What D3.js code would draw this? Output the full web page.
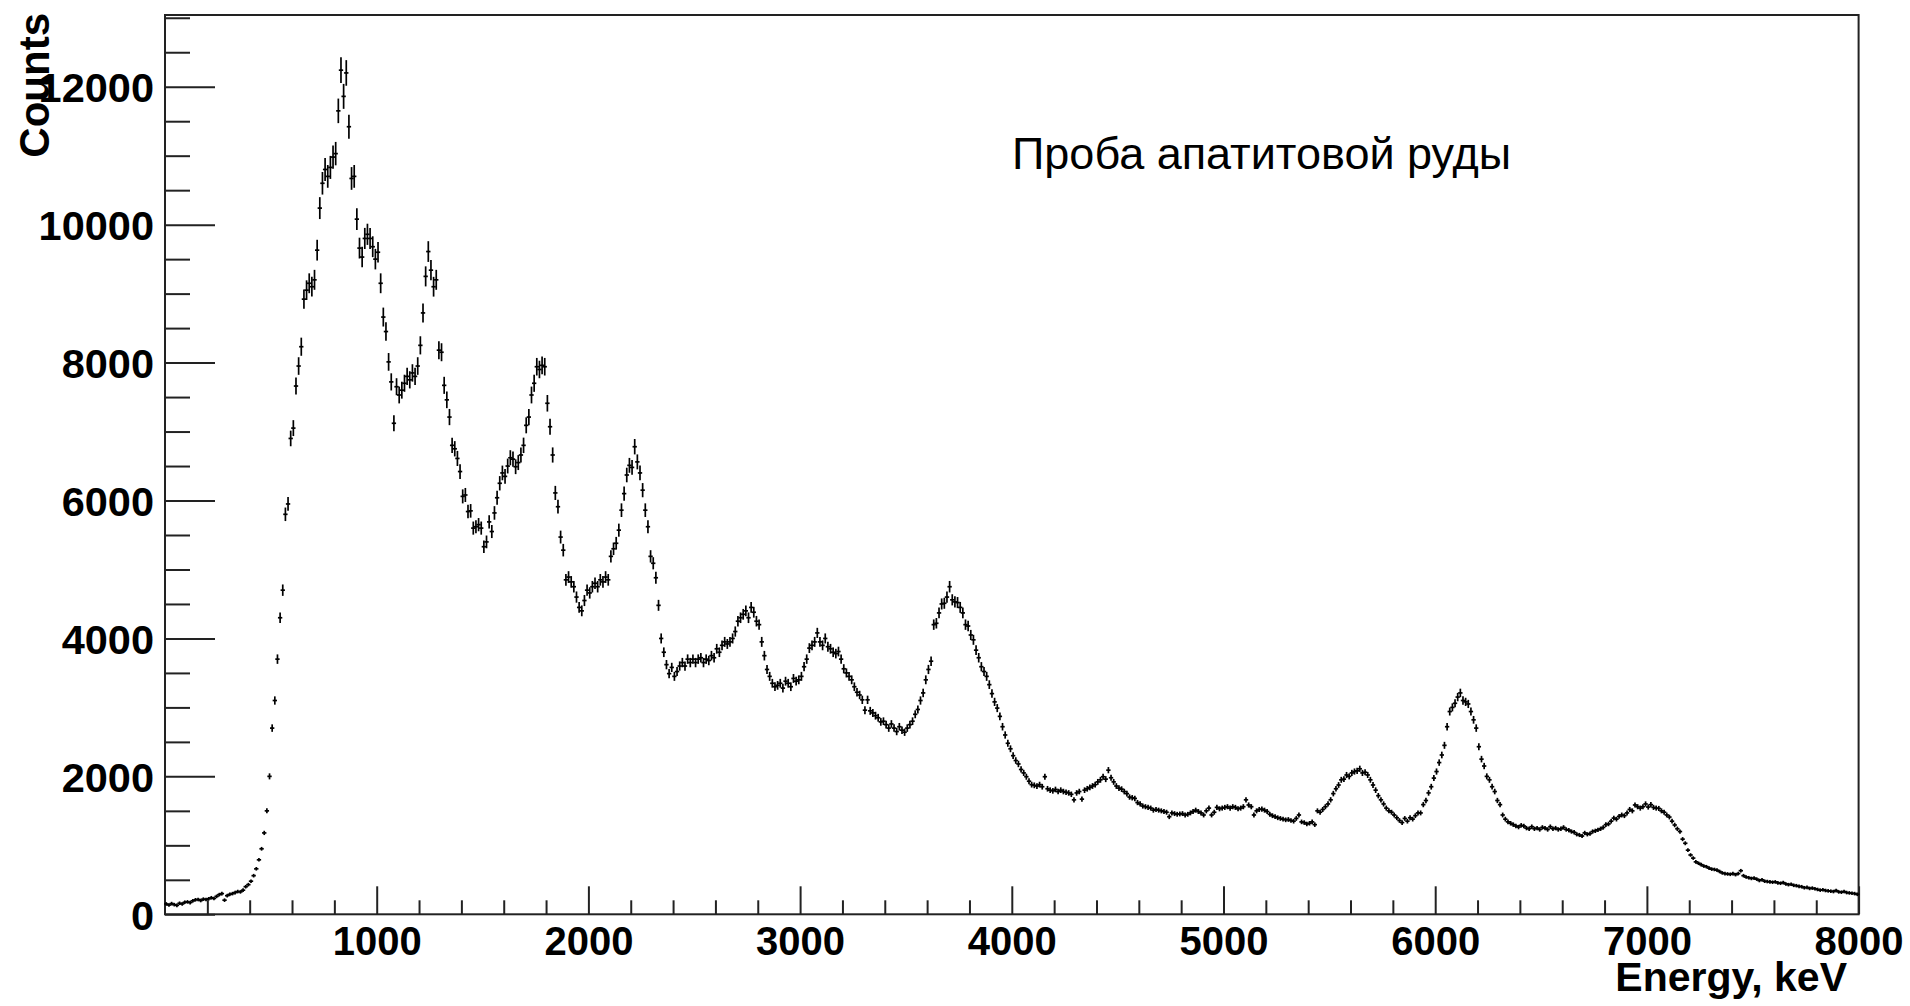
<!DOCTYPE html>
<html>
<head>
<meta charset="utf-8">
<title>Проба апатитовой руды</title>
<script src="https://cdn.jsdelivr.net/npm/d3@7"></script>
<style>
  html, body { margin: 0; padding: 0; background: #ffffff; }
  svg { display: block; }
  text { font-family: "Liberation Sans", Arial, Helvetica, sans-serif; fill: #000; }
</style>
</head>
<body>
<svg id="chart" width="1910" height="1006"></svg>
<script>
// Gamma spectrum of an apatite ore sample: counts per 12.5 keV bin, 0 - 8000 keV.
const binWidth = 12.5;   // keV per bin
const energyMin = 0;
const energyMax = 8000;

// 0 - 2000 keV
const counts0to2000 = [
  150,135,155,140,130,160,150,175,180,170,195,210,215,200,220,215,225,240,230,260,
  285,300,205,270,290,300,315,330,325,350,400,430,480,560,660,790,950,1180,1500,2000,
  2700,3100,3700,4300,4700,5800,5950,6900,7050,7660,7950,8230,8920,9050,9150,9100,9200,9630,10240,10600,
  10800,10700,10830,10980,11030,11650,12240,11860,12200,11420,10670,10700,10080,9660,9530,9800,9860,9800,9680,9500,
  9600,9150,8660,8450,8010,7720,7120,7650,7530,7600,7700,7800,7750,7850,7800,7950,8250,8720,9250,9610,
  9340,9100,9200,8180,8150,7670,7460,7210,6800,6750,6610,6420,6060,6080,5840,5850,5600,5620,5650,5600,
  5330,5400,5690,5550,5820,6040,6250,6400,6350,6500,6620,6600,6490,6550,6660,6800,7090,7210,7530,7700,
  7940,7900,7960,7940,7410,7070,6660,6110,5910,5470,5280,4850,4890,4820,4750,4600,4450,4400,4550,4700
];
// 2000 - 4000 keV
const counts2000to4000 = [
  4660,4750,4800,4750,4850,4820,4890,4850,5190,5300,5380,5570,5860,6100,6370,6510,6480,6780,6560,6400,
  6150,5860,5620,5190,5090,4880,4480,4000,3800,3620,3490,3580,3450,3520,3600,3650,3600,3700,3650,3700,
  3650,3700,3720,3650,3700,3680,3750,3720,3850,3800,3900,3950,3920,3950,4000,4100,4250,4300,4350,4400,
  4300,4450,4380,4250,4200,3950,3750,3550,3450,3350,3300,3320,3350,3280,3380,3350,3300,3420,3380,3400,
  3450,3590,3700,3860,3900,3950,4080,3950,3900,4000,3880,3850,3800,3780,3810,3700,3560,3500,3450,3400,
  3300,3220,3180,3110,2960,3110,2950,2920,2880,2850,2790,2800,2750,2700,2760,2700,2650,2720,2670,2640,
  2700,2750,2800,2900,2970,3100,3210,3400,3550,3670,4200,4220,4370,4500,4510,4600,4750,4560,4530,4520,
  4450,4370,4200,4180,4050,3980,3830,3720,3590,3520,3450,3330,3200,3080,2990,2870,2720,2600,2480,2400
];
// 4000 - 6000 keV
const counts4000to6000 = [
  2300,2230,2180,2100,2050,1995,1930,1880,1870,1860,1880,1850,1995,1820,1800,1790,1810,1780,1800,1780,
  1770,1760,1740,1660,1760,1780,1670,1800,1820,1840,1860,1880,1920,1950,1995,1960,2090,1980,1920,1860,
  1830,1815,1780,1750,1700,1690,1680,1620,1600,1570,1560,1550,1540,1510,1520,1510,1500,1490,1480,1415,
  1470,1460,1450,1455,1460,1440,1450,1470,1490,1510,1490,1470,1440,1500,1540,1440,1480,1550,1530,1540,
  1550,1560,1540,1560,1550,1530,1540,1560,1660,1585,1560,1440,1500,1520,1525,1510,1490,1450,1430,1415,
  1400,1390,1380,1370,1375,1360,1350,1390,1440,1340,1330,1310,1320,1340,1300,1500,1480,1520,1560,1600,
  1660,1750,1820,1875,1950,1960,2020,2000,2050,2070,2080,2110,2050,2060,2020,1950,1875,1800,1720,1660,
  1600,1540,1500,1480,1440,1400,1360,1330,1390,1350,1400,1380,1430,1470,1470,1590,1650,1760,1850,1975
];
// 6000 - 8000 keV
const counts6000to8000 = [
  2070,2200,2310,2450,2720,2940,3000,3060,3150,3210,3100,3080,3050,2940,2820,2700,2430,2250,2150,2000,
  1950,1850,1780,1650,1590,1440,1380,1340,1320,1300,1280,1265,1290,1280,1250,1240,1270,1240,1250,1230,
  1260,1250,1230,1270,1240,1250,1230,1240,1260,1230,1220,1200,1190,1160,1150,1135,1180,1160,1170,1200,
  1210,1225,1240,1260,1300,1310,1350,1395,1380,1420,1440,1430,1470,1520,1500,1585,1560,1540,1560,1600,
  1555,1590,1550,1540,1535,1500,1480,1440,1410,1350,1295,1240,1200,1090,1030,930,860,815,760,740,
  720,700,690,670,655,650,640,620,600,590,585,580,590,575,590,632,560,540,530,520,
  525,510,490,500,480,475,470,465,470,455,450,460,440,430,435,420,415,405,400,385,
  390,375,380,370,360,350,355,345,340,335,330,345,325,320,330,315,310,305,300,290
];

// Uncertainty model of the spectrum: statistical part plus a fractional part.
const statScale = 0.6;
const systFraction = 0.0135;

const xMajorTicks = [1000, 2000, 3000, 4000, 5000, 6000, 7000, 8000];
const yMajorTicks = [0, 2000, 4000, 6000, 8000, 10000, 12000];
const xMinorStep = 200;
const yMinorStep = 500;
const yMax = 13040;

const plotTitle = "Проба апатитовой руды";
const xTitle = "Energy, keV";
const yTitle = "Counts";

// ---------------------------------------------------------------
const counts = [...counts0to2000, ...counts2000to4000, ...counts4000to6000, ...counts6000to8000];
const bins = counts.map((v, i) => {
  const lo = energyMin + i * binWidth;
  return {
    lo, hi: lo + binWidth, center: lo + binWidth / 2, value: v,
    err: Math.sqrt(statScale * v + (systFraction * v) ** 2)
  };
});

const frame = { left: 165, right: 1858.6, top: 15, bottom: 914.3 };
const svg = d3.select("#chart");
svg.append("rect").attr("width", 1910).attr("height", 1006).attr("fill", "#fff");

const x = d3.scaleLinear().domain([energyMin, energyMax]).range([frame.left, frame.right]);
const y = d3.scaleLinear().domain([0, yMax]).range([frame.bottom, frame.top]);

const xMinor = d3.range(energyMin, energyMax + 1, xMinorStep).filter(v => !xMajorTicks.includes(v) && v > energyMin && v < energyMax);
const yMinor = d3.range(0, yMax, yMinorStep).filter(v => !yMajorTicks.includes(v));

const axisColor = "#222";
const labelFont = '"Liberation Sans", Arial, sans-serif';

// Y axis (ticks point into the plot)
const gy = svg.append("g").attr("transform", `translate(${frame.left},0)`);
gy.call(d3.axisLeft(y).tickValues(yMinor).tickSize(-25).tickSizeOuter(0).tickFormat(""));
gy.selectAll(".tick line").attr("stroke", axisColor).attr("stroke-width", 2);
const gyMajor = svg.append("g").attr("transform", `translate(${frame.left},0)`);
gyMajor.call(d3.axisLeft(y).tickValues(yMajorTicks).tickSize(-50).tickSizeOuter(0).tickPadding(11).tickFormat(d3.format("d")));
gyMajor.selectAll(".tick line").attr("stroke", axisColor).attr("stroke-width", 2);
gyMajor.selectAll(".tick text")
  .attr("font-size", 41.5).attr("font-weight", "bold").attr("dy", "0.36em")
  .style("font-family", labelFont).attr("fill", "#000");
svg.selectAll(".domain").remove();

// X axis (ticks point up into the plot)
const gx = svg.append("g").attr("transform", `translate(0,${frame.bottom})`);
gx.call(d3.axisBottom(x).tickValues(xMinor).tickSize(-14).tickSizeOuter(0).tickFormat(""));
gx.selectAll(".tick line").attr("stroke", axisColor).attr("stroke-width", 2);
const gxMajor = svg.append("g").attr("transform", `translate(0,${frame.bottom})`);
gxMajor.call(d3.axisBottom(x).tickValues(xMajorTicks).tickSize(-28).tickSizeOuter(0).tickPadding(12.5).tickFormat(d3.format("d")));
gxMajor.selectAll(".tick line").attr("stroke", axisColor).attr("stroke-width", 2);
gxMajor.selectAll(".tick text")
  .attr("font-size", 40).attr("font-weight", "bold")
  .style("font-family", labelFont).attr("fill", "#000");
svg.selectAll(".domain").remove();

// Frame
svg.append("rect")
  .attr("x", frame.left).attr("y", frame.top)
  .attr("width", frame.right - frame.left).attr("height", frame.bottom - frame.top)
  .attr("fill", "none").attr("stroke", axisColor).attr("stroke-width", 2);

// Data points: vertical error bars and bin-width horizontal bars
const pts = svg.append("g").attr("stroke", "#000").attr("fill", "none");
pts.selectAll("line.ey").data(bins).join("line")
  .attr("class", "ey")
  .attr("x1", d => x(d.center)).attr("x2", d => x(d.center))
  .attr("y1", d => Math.min(y(d.value + d.err), y(d.value) - 1.8))
  .attr("y2", d => Math.max(y(d.value - d.err), y(d.value) + 1.8))
  .attr("stroke-width", 1.7);
pts.selectAll("line.ex").data(bins).join("line")
  .attr("class", "ex")
  .attr("x1", d => x(d.lo)).attr("x2", d => x(d.hi))
  .attr("y1", d => y(d.value)).attr("y2", d => y(d.value))
  .attr("stroke-width", 1.7).attr("stroke-linecap", "square");

// Axis titles
svg.append("text")
  .attr("transform", "translate(49,13) rotate(-90)")
  .attr("text-anchor", "end").attr("font-size", 42).attr("font-weight", "bold")
  .text(yTitle);
svg.append("text")
  .attr("x", 1847).attr("y", 991)
  .attr("text-anchor", "end").attr("font-size", 41).attr("font-weight", "bold")
  .text(xTitle);

// Sample label
svg.append("text")
  .attr("x", 1012).attr("y", 169)
  .attr("font-size", 45)
  .text(plotTitle);
</script>
</body>
</html>
